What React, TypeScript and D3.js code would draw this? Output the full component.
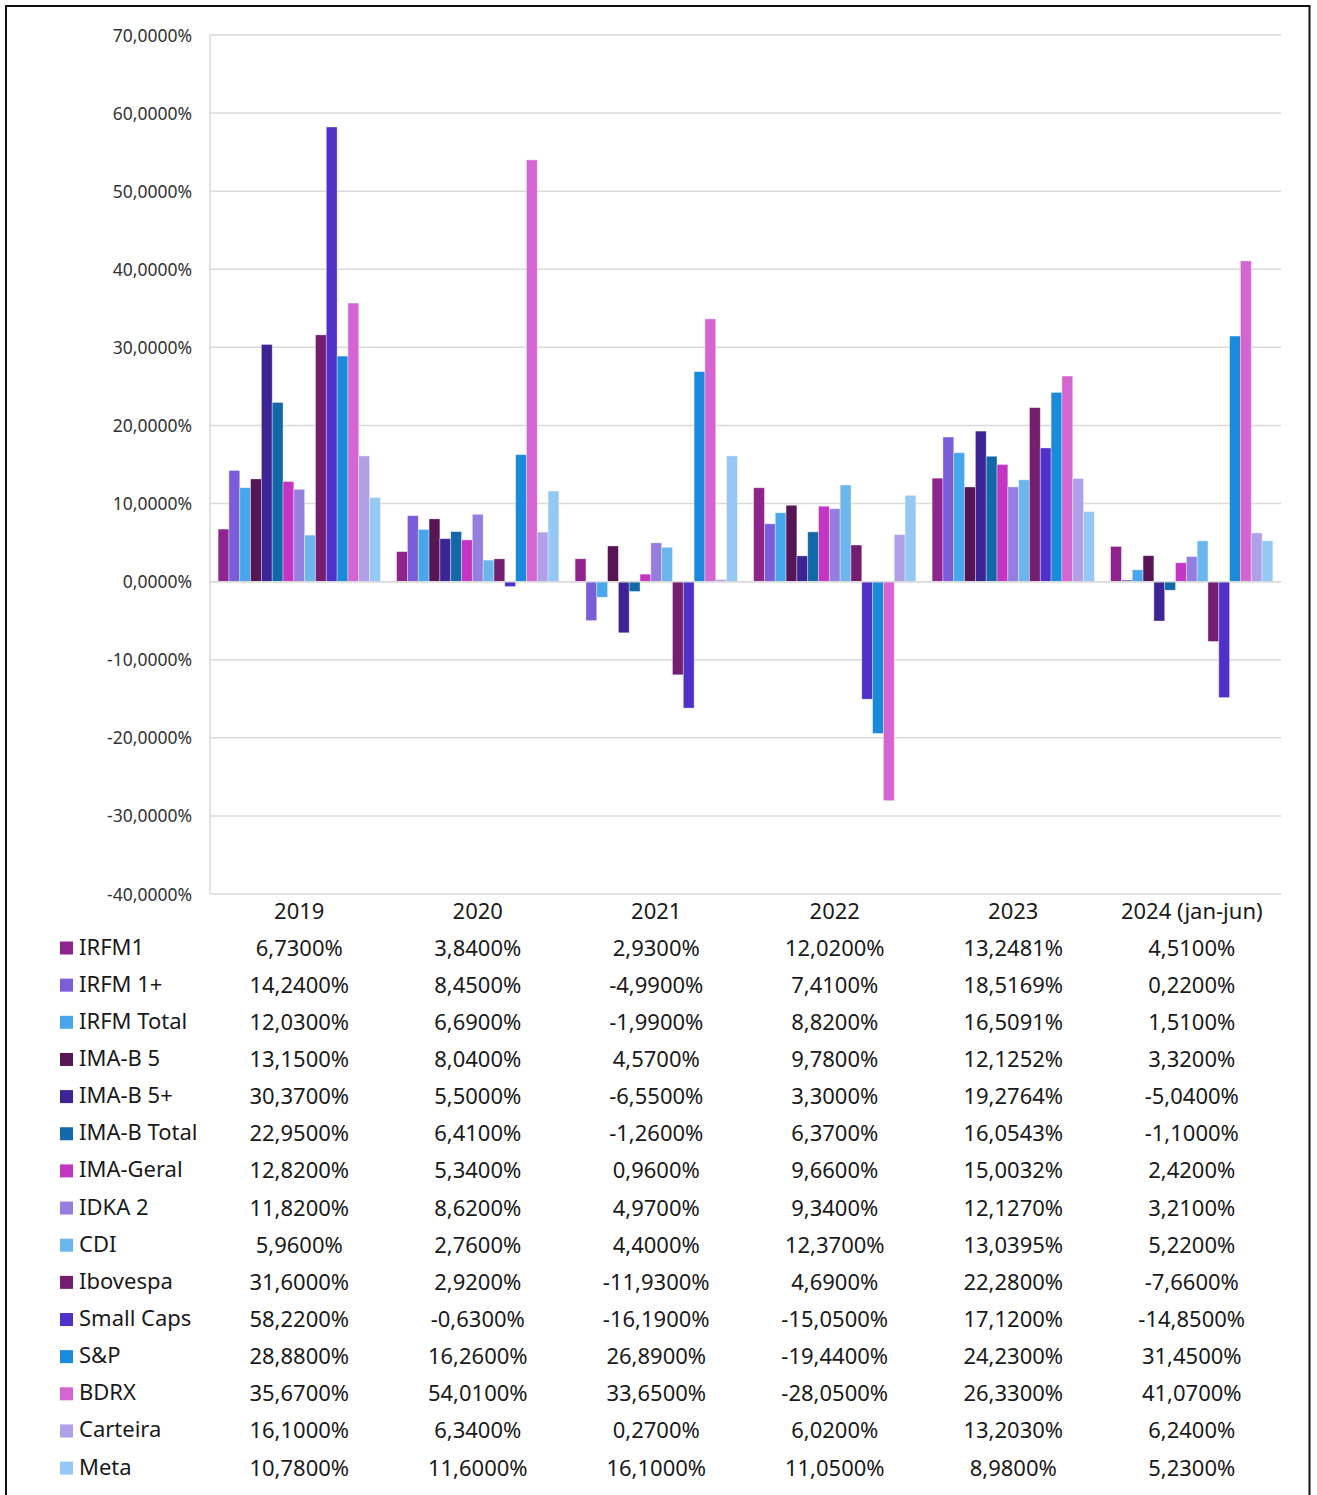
import React from "react";
import * as d3 from "d3";

const categories = ["2019", "2020", "2021", "2022", "2023", "2024 (jan-jun)"];

const seriesNames = [
  "IRFM1", "IRFM 1+", "IRFM Total", "IMA-B 5", "IMA-B 5+", "IMA-B Total",
  "IMA-Geral", "IDKA 2", "CDI", "Ibovespa", "Small Caps", "S&P", "BDRX",
  "Carteira", "Meta",
];

const seriesColors = [
  "#8F248E", "#7B5CD9", "#47A6EC", "#561656", "#3C2494", "#1268A8",
  "#C435C4", "#957EE0", "#6CB6F0", "#751E6F", "#4F30C8", "#1A8ADD",
  "#D565D3", "#AFA0E8", "#95C8F5",
];

const irfm1 = [6.73, 3.84, 2.93, 12.02, 13.2481, 4.51];
const irfm1plus = [14.24, 8.45, -4.99, 7.41, 18.5169, 0.22];
const irfmTotal = [12.03, 6.69, -1.99, 8.82, 16.5091, 1.51];
const imab5 = [13.15, 8.04, 4.57, 9.78, 12.1252, 3.32];
const imab5plus = [30.37, 5.5, -6.55, 3.3, 19.2764, -5.04];
const imabTotal = [22.95, 6.41, -1.26, 6.37, 16.0543, -1.1];
const imaGeral = [12.82, 5.34, 0.96, 9.66, 15.0032, 2.42];
const idka2 = [11.82, 8.62, 4.97, 9.34, 12.127, 3.21];
const cdi = [5.96, 2.76, 4.4, 12.37, 13.0395, 5.22];
const ibovespa = [31.6, 2.92, -11.93, 4.69, 22.28, -7.66];
const smallCaps = [58.22, -0.63, -16.19, -15.05, 17.12, -14.85];
const sp = [28.88, 16.26, 26.89, -19.44, 24.23, 31.45];
const bdrx = [35.67, 54.01, 33.65, -28.05, 26.33, 41.07];
const carteira = [16.1, 6.34, 0.27, 6.02, 13.203, 6.24];
const meta = [10.78, 11.6, 16.1, 11.05, 8.98, 5.23];

const seriesValues = [
  irfm1, irfm1plus, irfmTotal, imab5, imab5plus, imabTotal, imaGeral, idka2,
  cdi, ibovespa, smallCaps, sp, bdrx, carteira, meta,
];

const yTicks = [70, 60, 50, 40, 30, 20, 10, 0, -10, -20, -30, -40];

const W = 1317;
const H = 1495;
const plotLeft = 210;
const plotRight = 1281;
const plotTop = 35;
const plotBottom = 894;

const locale = d3.formatLocale({
  decimal: ",",
  thousands: ".",
  grouping: [3],
  currency: ["R$", ""],
  minus: "-",
});
const fmt4 = locale.format(".4f");
const pct = (v: number) => fmt4(v) + "%";

export default function App() {
  const x0 = d3
    .scaleBand<string>()
    .domain(categories)
    .range([plotLeft, plotRight])
    .paddingInner(0)
    .paddingOuter(0);
  const x1 = d3
    .scaleBand<string>()
    .domain(seriesNames)
    .range([0, x0.bandwidth()])
    .paddingInner(0)
    .paddingOuter(0.75);
  const y = d3.scaleLinear().domain([-40, 70]).range([plotBottom, plotTop]);

  const headerY = 910;
  const rowY0 = 946.5;
  const rowStep = 37.15;
  const font = "'Noto Sans', 'Open Sans', sans-serif";

  return (
    <svg
      width={W}
      height={H}
      style={{ position: "absolute", left: 0, top: 0, background: "#fff" }}
      fontFamily={font}
    >
      <rect x={0} y={0} width={W} height={H} fill="#fff" />
      {/* frame */}
      <path
        d={`M6,${H + 5} L6,6 L1309.5,6 L1309.5,${H + 5}`}
        fill="none"
        stroke="#111"
        strokeWidth={2}
      />
      {/* gridlines */}
      {yTicks.map((t) => (
        <line
          key={"g" + t}
          x1={plotLeft}
          x2={plotRight}
          y1={y(t)}
          y2={y(t)}
          stroke="#d9d9d9"
          strokeWidth={1.5}
        />
      ))}
      <line
        x1={plotLeft}
        x2={plotLeft}
        y1={plotTop}
        y2={plotBottom}
        stroke="#d9d9d9"
        strokeWidth={1.5}
      />
      {/* y tick labels */}
      {yTicks.map((t) => (
        <text
          key={"t" + t}
          x={192}
          y={y(t) - 0.5}
          textAnchor="end"
          dominantBaseline="central"
          fontSize={17.5}
          fill="#333"
        >
          {pct(t)}
        </text>
      ))}
      {/* bars */}
      {categories.map((c, ci) => (
        <g key={c} transform={`translate(${x0(c)},0)`}>
          {seriesNames.map((s, si) => {
            const v = seriesValues[si][ci];
            const y0 = y(0);
            const yv = y(v);
            return (
              <rect
                key={s}
                x={x1(s)}
                y={Math.min(y0, yv)}
                width={x1.bandwidth()}
                height={Math.abs(yv - y0)}
                fill={seriesColors[si]}
                stroke="#ffffff"
                strokeOpacity={0.45}
                strokeWidth={0.8}
              />
            );
          })}
        </g>
      ))}
      {/* zero line on top */}
      <line
        x1={plotLeft}
        x2={plotRight}
        y1={y(0)}
        y2={y(0)}
        stroke="#d9d9d9"
        strokeWidth={1.5}
      />
      {/* data table header */}
      {categories.map((c) => (
        <text
          key={"h" + c}
          x={(x0(c) as number) + x0.bandwidth() / 2}
          y={headerY}
          textAnchor="middle"
          dominantBaseline="central"
          fontSize={22}
          fill="#1a1a1a"
        >
          {c}
        </text>
      ))}
      {/* data table rows */}
      {seriesNames.map((s, si) => {
        const ry = rowY0 + si * rowStep;
        return (
          <g key={"r" + s}>
            <rect
              x={60}
              y={ry - 5}
              width={13}
              height={13}
              fill={seriesColors[si]}
            />
            <text
              x={79}
              y={ry - 1}
              dominantBaseline="central"
              fontSize={22}
              fill="#1a1a1a"
            >
              {s}
            </text>
            {categories.map((c, ci) => (
              <text
                key={c}
                x={(x0(c) as number) + x0.bandwidth() / 2}
                y={ry}
                textAnchor="middle"
                dominantBaseline="central"
                fontSize={22}
                fill="#1a1a1a"
              >
                {pct(seriesValues[si][ci])}
              </text>
            ))}
          </g>
        );
      })}
    </svg>
  );
}
